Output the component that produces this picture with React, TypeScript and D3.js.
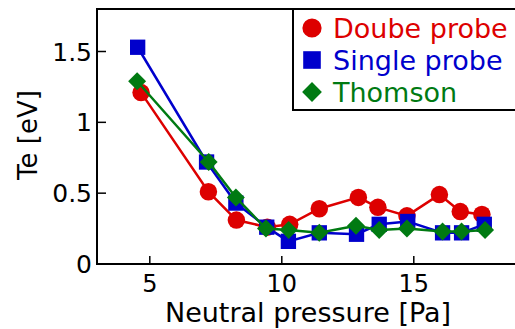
import React, { useEffect, useRef } from 'react';
import * as d3 from 'd3';

// Te vs neutral pressure, three diagnostics
const doubleX = [4.67, 7.22, 8.28, 9.45, 10.3, 11.42, 12.9, 13.64, 14.74, 15.97, 16.76, 17.58];
const doubleTe = [1.21, 0.51, 0.31, 0.26, 0.28, 0.39, 0.47, 0.4, 0.34, 0.49, 0.37, 0.35];

const singleX = [4.54, 7.15, 8.26, 9.43, 10.25, 11.42, 12.83, 13.69, 14.77, 16.09, 16.81, 17.67];
const singleTe = [1.53, 0.72, 0.43, 0.26, 0.16, 0.22, 0.21, 0.28, 0.3, 0.22, 0.22, 0.28];

const thomsonX = [4.52, 7.23, 8.26, 9.4, 10.26, 11.42, 12.81, 13.69, 14.74, 16.09, 16.81, 17.7];
const thomsonTe = [1.29, 0.72, 0.47, 0.25, 0.24, 0.22, 0.27, 0.24, 0.25, 0.23, 0.23, 0.24];

const xTicks = [5, 10, 15];
const yTicks = [0, 0.5, 1, 1.5];
const yTickLabels = ['0', '0.5', '1', '1.5'];

const seriesNames = ['Doube probe', 'Single probe', 'Thomson'];
const seriesColors = ['#dd0000', '#0000cc', '#007a12'];
const seriesShapes = ['circle', 'square', 'diamond'];

const W = 515;
const H = 329;
const FONT = 'DejaVu Sans, sans-serif';

const App: React.FC = () => {
  const svgRef = useRef<SVGSVGElement | null>(null);

  useEffect(() => {
    const svg = d3.select(svgRef.current);
    svg.selectAll('*').remove();

    const left = 97;
    const top = 9;
    const bottom = 264;
    const x = d3.scaleLinear().domain([3, 19]).range([left, 519.4]);
    const y = d3.scaleLinear().domain([0, 1.8]).range([bottom, top]);

    const sym = (shape: string, size: number) => {
      const type = shape === 'circle' ? d3.symbolCircle : shape === 'square' ? d3.symbolSquare : d3.symbolDiamond2;
      return d3.symbol().type(type).size(size)();
    };
    const markerSize: Record<string, number> = { circle: 240, square: 235, diamond: 205 };

    const series = [
      { xs: doubleX, ys: doubleTe },
      { xs: singleX, ys: singleTe },
      { xs: thomsonX, ys: thomsonTe },
    ];

    series.forEach((s, i) => {
      const pts = s.xs.map((v, j) => [v, s.ys[j]] as [number, number]);
      const line = d3.line<[number, number]>().x((d) => x(d[0])).y((d) => y(d[1]));
      svg.append('path')
        .datum(pts)
        .attr('fill', 'none')
        .attr('stroke', seriesColors[i])
        .attr('stroke-width', 2.5)
        .attr('d', line);
      svg.append('g')
        .selectAll('path')
        .data(pts)
        .join('path')
        .attr('transform', (d) => `translate(${x(d[0])},${y(d[1])})`)
        .attr('d', sym(seriesShapes[i], markerSize[seriesShapes[i]]))
        .attr('fill', seriesColors[i]);
    });

    // frame
    svg.append('path')
      .attr('d', `M${W + 5},${top}H${left}V${bottom}H${W + 5}`)
      .attr('fill', 'none')
      .attr('stroke', '#000')
      .attr('stroke-width', 2);

    // x ticks (inward)
    const gx = svg.append('g');
    xTicks.forEach((t) => {
      gx.append('line')
        .attr('x1', x(t)).attr('x2', x(t))
        .attr('y1', bottom).attr('y2', bottom - 8)
        .attr('stroke', '#000').attr('stroke-width', 1.5);
      gx.append('text')
        .attr('x', x(t)).attr('y', 292)
        .attr('text-anchor', 'middle')
        .attr('font-family', FONT).attr('font-size', 24)
        .text(t);
    });

    const gy = svg.append('g');
    yTicks.forEach((t, i) => {
      gy.append('line')
        .attr('x1', left).attr('x2', left + 9)
        .attr('y1', y(t)).attr('y2', y(t))
        .attr('stroke', '#000').attr('stroke-width', 1.5);
      gy.append('text')
        .attr('x', 92).attr('y', y(t))
        .attr('dy', '0.36em')
        .attr('text-anchor', 'end')
        .attr('font-family', FONT).attr('font-size', 25)
        .text(yTickLabels[i]);
    });

    svg.append('text')
      .attr('x', 308).attr('y', 322)
      .attr('text-anchor', 'middle')
      .attr('font-family', FONT).attr('font-size', 27)
      .text('Neutral pressure [Pa]');

    svg.append('text')
      .attr('transform', 'translate(37,135) rotate(-90)')
      .attr('text-anchor', 'middle')
      .attr('font-family', FONT).attr('font-size', 26)
      .text('Te [eV]');

    // legend
    const lg = svg.append('g');
    lg.append('rect')
      .attr('x', 293).attr('y', top)
      .attr('width', 240).attr('height', 101)
      .attr('fill', '#fff').attr('stroke', '#000').attr('stroke-width', 2);
    const legendSize: Record<string, number> = { circle: 290, square: 310, diamond: 250 };
    seriesNames.forEach((name, i) => {
      const cy = 28 + i * 32;
      lg.append('path')
        .attr('transform', `translate(312,${cy})`)
        .attr('d', sym(seriesShapes[i], legendSize[seriesShapes[i]]))
        .attr('fill', seriesColors[i]);
      lg.append('text')
        .attr('x', 333).attr('y', cy)
        .attr('dy', '0.36em')
        .attr('font-family', FONT).attr('font-size', 27)
        .attr('fill', seriesColors[i])
        .text(name);
    });
  }, []);

  return (
    <svg ref={svgRef} width={W} height={H} style={{ position: 'absolute', left: 0, top: 0, background: '#fff' }}></svg>
  );
};

export default App;
